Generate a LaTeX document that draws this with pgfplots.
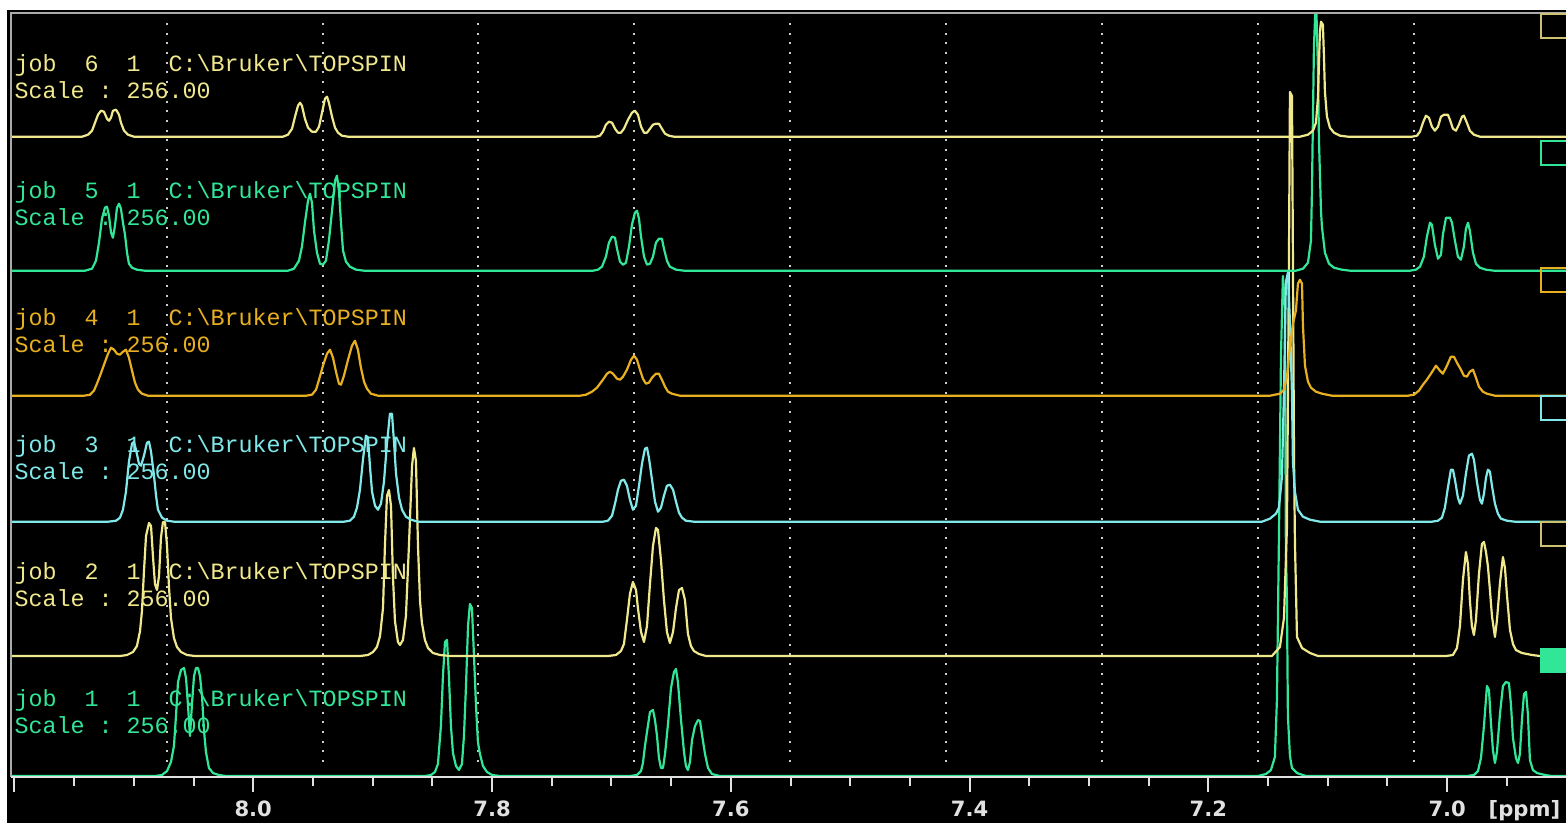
\documentclass[border=0pt]{standalone}
\usepackage{pgfplots}
\pgfplotsset{compat=1.18}
\usepackage{pgfplotstable}
\usepackage{fontspec}
\setmainfont{DejaVu Sans}
\newfontfamily\monofont{Liberation Mono}
\definecolor{cyel}{RGB}{240,232,140}
\definecolor{cyelbox}{RGB}{205,195,110}
\definecolor{cgrn}{RGB}{50,230,152}
\definecolor{corg}{RGB}{232,176,32}
\definecolor{ccyn}{RGB}{128,232,232}
\definecolor{tickgray}{RGB}{225,225,225}
\definecolor{framegray}{RGB}{170,170,170}
\definecolor{dotgray}{RGB}{205,205,205}

% job 6
\pgfplotstableread{
x y
8.2100 0
8.1434 0
8.1384 2
8.1350 6
8.1325 14
8.1300 22
8.1275 26
8.1250 25
8.1225 18
8.1208 16
8.1191 19
8.1175 26
8.1149 27
8.1124 22
8.1108 14
8.1082 6
8.1049 2
8.0999 0
7.9751 0
7.9709 2
7.9675 8
7.9650 20
7.9625 31
7.9608 34
7.9592 31
7.9567 18
7.9541 9
7.9508 5
7.9474 5
7.9449 10
7.9424 24
7.9399 38
7.9382 40
7.9366 34
7.9340 20
7.9315 9
7.9290 4
7.9257 1
7.9206 0
7.7129 0
7.7096 1
7.7071 5
7.7046 12
7.7021 15
7.6995 14
7.6970 8
7.6945 4
7.6920 4
7.6895 8
7.6861 17
7.6828 24
7.6803 26
7.6778 22
7.6752 10
7.6727 4
7.6702 4
7.6677 8
7.6652 12
7.6627 13
7.6602 13
7.6577 8
7.6551 3
7.6518 1
7.6476 0
7.1233 0
7.1166 2
7.1124 6
7.1099 14
7.1082 40
7.1066 105
7.1057 115
7.1041 112
7.1032 80
7.1024 45
7.1007 20
7.0982 9
7.0948 4
7.0898 1
7.0831 0
7.0295 0
7.0253 1
7.0228 5
7.0203 14
7.0178 21
7.0153 19
7.0128 10
7.0103 6
7.0077 10
7.0052 20
7.0027 22
6.9994 22
6.9977 17
6.9952 8
6.9927 6
6.9902 12
6.9876 20
6.9860 21
6.9835 14
6.9810 6
6.9776 2
6.9726 0
6.8900 0
}\jobsix

% job 5
\pgfplotstableread{
x y
8.2100 0
8.1409 0
8.1350 2
8.1317 10
8.1292 28
8.1267 52
8.1242 63
8.1225 64
8.1208 55
8.1191 38
8.1175 33
8.1158 45
8.1141 63
8.1124 67
8.1108 62
8.1091 48
8.1074 36
8.1057 18
8.1041 7
8.1015 3
8.0974 1
8.0907 0
7.9709 0
7.9659 2
7.9617 10
7.9592 24
7.9567 48
7.9541 70
7.9525 77
7.9508 68
7.9491 40
7.9466 18
7.9441 7
7.9416 6
7.9391 10
7.9366 30
7.9340 60
7.9315 90
7.9299 95
7.9282 80
7.9265 48
7.9248 20
7.9223 9
7.9190 4
7.9139 1
7.9072 0
7.7155 0
7.7113 1
7.7079 4
7.7046 14
7.7021 28
7.6995 34
7.6970 33
7.6953 22
7.6928 9
7.6903 6
7.6878 8
7.6853 24
7.6828 46
7.6803 58
7.6786 60
7.6769 52
7.6752 34
7.6727 14
7.6702 6
7.6677 7
7.6652 14
7.6627 28
7.6602 32
7.6577 32
7.6560 22
7.6535 10
7.6510 4
7.6459 1
7.6392 0
7.1267 0
7.1208 2
7.1166 8
7.1141 30
7.1133 77
7.1116 224
7.1099 275
7.1082 200
7.1074 131
7.1057 60
7.1049 44
7.1024 18
7.0990 7
7.0948 3
7.0881 1
7.0814 0
7.0312 0
7.0262 1
7.0228 4
7.0195 14
7.0170 34
7.0144 48
7.0128 46
7.0103 26
7.0077 12
7.0052 16
7.0036 36
7.0010 53
6.9977 53
6.9960 48
6.9935 30
6.9910 14
6.9885 11
6.9860 24
6.9843 42
6.9826 48
6.9810 40
6.9784 18
6.9759 7
6.9726 3
6.9675 1
6.9608 0
6.8900 0
}\jobfive

% job 4
\pgfplotstableread{
x y
8.2100 0
8.1417 0
8.1367 1
8.1334 5
8.1309 12
8.1283 20
8.1250 31
8.1216 42
8.1191 48
8.1166 46
8.1141 42
8.1116 41
8.1091 44
8.1066 46
8.1041 38
8.1015 25
8.0990 13
8.0965 6
8.0932 2
8.0881 0
7.9558 0
7.9508 1
7.9474 6
7.9449 16
7.9416 30
7.9382 42
7.9357 46
7.9332 38
7.9307 24
7.9282 12
7.9265 11
7.9240 20
7.9206 36
7.9173 50
7.9148 55
7.9123 46
7.9098 28
7.9072 14
7.9047 7
7.9014 2
7.8955 0
7.7263 0
7.7213 1
7.7163 4
7.7121 8
7.7071 16
7.7037 22
7.7012 24
7.6987 22
7.6953 17
7.6928 16
7.6903 19
7.6870 26
7.6836 36
7.6811 40
7.6786 36
7.6761 26
7.6736 17
7.6711 12
7.6686 13
7.6660 18
7.6627 22
7.6602 22
7.6577 16
7.6551 9
7.6526 4
7.6493 2
7.6426 0
7.1485 0
7.1401 2
7.1367 6
7.1342 19
7.1317 49
7.1292 72
7.1267 85
7.1250 112
7.1233 116
7.1216 112
7.1208 70
7.1191 30
7.1166 14
7.1141 8
7.1099 4
7.1049 2
7.0965 0
7.0329 0
7.0278 1
7.0237 5
7.0203 11
7.0170 16
7.0136 22
7.0094 30
7.0061 25
7.0036 22
7.0002 30
6.9969 39
6.9943 39
6.9918 33
6.9885 26
6.9860 20
6.9835 19
6.9810 24
6.9784 26
6.9759 18
6.9734 9
6.9701 4
6.9667 2
6.9600 0
6.8900 0
}\jobfour

% job 3
\pgfplotstableread{
x y
8.2100 0
8.1216 0
8.1149 1
8.1116 4
8.1091 12
8.1066 30
8.1041 60
8.1015 78
8.0999 80
8.0982 72
8.0957 58
8.0940 56
8.0915 66
8.0890 79
8.0873 80
8.0856 70
8.0831 46
8.0814 26
8.0798 12
8.0764 4
8.0722 1
8.0664 0
7.9240 0
7.9190 1
7.9156 5
7.9131 14
7.9106 32
7.9081 62
7.9056 86
7.9039 84
7.9022 55
7.9005 30
7.8980 16
7.8955 12
7.8930 18
7.8905 40
7.8880 78
7.8855 108
7.8838 108
7.8821 80
7.8804 48
7.8779 24
7.8754 12
7.8721 5
7.8679 2
7.8620 0
7.7071 0
7.7029 1
7.6995 6
7.6970 18
7.6945 32
7.6920 41
7.6895 42
7.6870 36
7.6845 22
7.6820 12
7.6794 16
7.6769 36
7.6744 58
7.6719 73
7.6702 74
7.6686 64
7.6660 42
7.6635 20
7.6610 10
7.6585 14
7.6560 26
7.6535 36
7.6510 37
7.6484 32
7.6459 20
7.6434 9
7.6409 4
7.6376 1
7.6309 0
7.1552 0
7.1485 3
7.1434 8
7.1409 14
7.1384 45
7.1367 130
7.1351 240
7.1334 249
7.1317 200
7.1300 128
7.1292 60
7.1275 30
7.1250 12
7.1208 5
7.1149 2
7.1066 0
7.0128 0
7.0077 1
7.0044 4
7.0019 14
6.9994 34
6.9969 52
6.9952 52
6.9935 42
6.9910 24
6.9893 18
6.9868 26
6.9843 48
6.9818 66
6.9793 68
6.9776 62
6.9751 40
6.9726 22
6.9709 18
6.9692 28
6.9675 44
6.9659 52
6.9642 50
6.9625 36
6.9600 18
6.9575 8
6.9550 3
6.9500 1
6.9433 0
6.8900 0
}\jobthree

% job 2
\pgfplotstableread{
x y
8.2100 0
8.1116 0
8.1057 1
8.1007 4
8.0974 10
8.0948 25
8.0932 45
8.0915 85
8.0898 120
8.0873 133
8.0856 130
8.0840 100
8.0823 72
8.0806 66
8.0789 80
8.0773 118
8.0756 134
8.0739 134
8.0722 110
8.0706 70
8.0689 38
8.0664 18
8.0639 9
8.0605 4
8.0555 1
8.0488 0
7.9106 0
7.9039 1
7.8997 4
7.8964 9
7.8938 20
7.8913 48
7.8897 110
7.8880 160
7.8863 166
7.8846 150
7.8830 80
7.8813 35
7.8788 14
7.8771 11
7.8746 16
7.8721 40
7.8696 110
7.8670 190
7.8654 208
7.8637 195
7.8620 110
7.8603 55
7.8587 33
7.8562 16
7.8536 8
7.8495 3
7.8436 1
7.8352 0
7.7029 0
7.6962 1
7.6920 5
7.6895 12
7.6870 36
7.6845 62
7.6820 74
7.6794 66
7.6778 48
7.6752 24
7.6727 14
7.6702 30
7.6677 72
7.6652 110
7.6627 128
7.6610 126
7.6585 96
7.6560 56
7.6535 24
7.6510 13
7.6484 24
7.6459 48
7.6434 66
7.6409 68
7.6384 56
7.6359 22
7.6334 10
7.6309 5
7.6267 2
7.6208 0
7.1468 0
7.1401 9
7.1367 38
7.1342 129
7.1325 400
7.1317 564
7.1300 560
7.1292 400
7.1283 200
7.1275 113
7.1258 19
7.1216 8
7.1149 3
7.1082 0
7.0010 0
6.9952 1
6.9918 8
6.9893 30
6.9868 76
6.9843 104
6.9826 92
6.9810 56
6.9793 30
6.9776 21
6.9759 36
6.9734 82
6.9709 112
6.9692 114
6.9675 104
6.9659 90
6.9642 66
6.9625 40
6.9600 19
6.9583 36
6.9558 73
6.9533 99
6.9516 88
6.9500 62
6.9474 26
6.9449 12
6.9424 6
6.9374 3
6.9290 1
6.9223 0
6.8900 0
}\jobtwo

% job 1
\pgfplotstableread{
x y
8.2100 0
8.0823 0
8.0764 1
8.0722 5
8.0689 14
8.0664 30
8.0647 60
8.0630 94
8.0605 106
8.0580 108
8.0563 98
8.0546 70
8.0530 40
8.0513 72
8.0496 100
8.0479 108
8.0463 108
8.0446 100
8.0429 80
8.0412 45
8.0396 24
8.0371 8
8.0337 3
8.0287 1
8.0228 0
7.8562 0
7.8511 1
7.8478 4
7.8453 12
7.8428 50
7.8411 100
7.8394 134
7.8377 136
7.8361 100
7.8344 50
7.8327 23
7.8302 10
7.8277 6
7.8252 12
7.8235 40
7.8218 90
7.8201 150
7.8185 172
7.8168 168
7.8151 120
7.8134 70
7.8118 34
7.8101 22
7.8076 10
7.8042 4
7.8000 1
7.7933 0
7.6845 0
7.6786 1
7.6752 5
7.6736 13
7.6719 30
7.6702 44
7.6677 64
7.6652 66
7.6635 56
7.6618 40
7.6602 18
7.6585 8
7.6568 8
7.6551 22
7.6526 52
7.6501 88
7.6476 104
7.6459 107
7.6443 94
7.6417 56
7.6392 24
7.6376 10
7.6359 6
7.6342 14
7.6325 36
7.6300 50
7.6275 56
7.6258 55
7.6242 42
7.6216 22
7.6191 8
7.6158 2
7.6091 0
7.1585 0
7.1518 2
7.1476 6
7.1443 19
7.1426 76
7.1409 240
7.1392 420
7.1376 500
7.1359 470
7.1351 230
7.1342 173
7.1334 60
7.1317 20
7.1300 8
7.1258 3
7.1183 0
6.9835 0
6.9776 1
6.9742 5
6.9717 18
6.9692 50
6.9667 90
6.9650 86
6.9634 54
6.9617 26
6.9600 13
6.9583 24
6.9558 62
6.9533 90
6.9508 94
6.9483 93
6.9466 72
6.9449 38
6.9424 18
6.9407 13
6.9391 22
6.9374 56
6.9357 82
6.9340 84
6.9324 62
6.9307 16
6.9282 6
6.9248 3
6.9181 1
6.9123 0
6.8900 0
}\jobone

\newcommand{\lblfont}{\monofont\fontsize{6.64pt}{7pt}\selectfont}
\newcommand{\tkfont}{\bfseries\fontsize{6pt}{7pt}\selectfont}

\begin{document}
\begin{tikzpicture}
\useasboundingbox (0,0) rectangle (15.66cm,-8.23cm);
\fill[white] (0,0) rectangle (15.66cm,-8.23cm);
\fill[black] (0.07cm,-0.10cm) rectangle (15.66cm,-8.23cm);
\begin{axis}[
  at={(0.11cm,-0.13cm)}, anchor=north west,
  scale only axis, width=15.55cm, height=7.64cm,
  xmin=6.9005, xmax=8.2029, x dir=reverse,
  ymin=46, ymax=810,
  axis line style={draw=none},
  ytick=\empty,
  xtick={7.0,7.2,7.4,7.6,7.8,8.0,8.2},
  xticklabels={7.0,7.2,7.4,7.6,7.8,8.0,{}},
  minor xtick={6.95,7.05,7.1,7.15,7.25,7.3,7.35,7.45,7.5,7.55,7.65,7.7,7.75,7.85,7.9,7.95,8.05,8.1,8.15},
  xtick pos=left, tick align=outside,
  major tick length=0.15cm, minor tick length=0.09cm,
  tick style={draw=tickgray, line width=0.02cm},
  xticklabel style={font=\tkfont, text=tickgray, anchor=base, inner sep=0pt, yshift=-0.245cm},
  clip=true,
]
\draw[dotgray, line width=0.02cm, dash pattern=on 0.02cm off 0.077cm] (axis cs:8.0725,800) -- (axis cs:8.0725,55);
\draw[dotgray, line width=0.02cm, dash pattern=on 0.02cm off 0.077cm] (axis cs:7.9419,800) -- (axis cs:7.9419,55);
\draw[dotgray, line width=0.02cm, dash pattern=on 0.02cm off 0.077cm] (axis cs:7.8114,800) -- (axis cs:7.8114,55);
\draw[dotgray, line width=0.02cm, dash pattern=on 0.02cm off 0.077cm] (axis cs:7.6808,800) -- (axis cs:7.6808,55);
\draw[dotgray, line width=0.02cm, dash pattern=on 0.02cm off 0.077cm] (axis cs:7.5502,800) -- (axis cs:7.5502,55);
\draw[dotgray, line width=0.02cm, dash pattern=on 0.02cm off 0.077cm] (axis cs:7.4196,800) -- (axis cs:7.4196,55);
\draw[dotgray, line width=0.02cm, dash pattern=on 0.02cm off 0.077cm] (axis cs:7.2891,800) -- (axis cs:7.2891,55);
\draw[dotgray, line width=0.02cm, dash pattern=on 0.02cm off 0.077cm] (axis cs:7.1585,800) -- (axis cs:7.1585,55);
\draw[dotgray, line width=0.02cm, dash pattern=on 0.02cm off 0.077cm] (axis cs:7.0279,800) -- (axis cs:7.0279,55);

\addplot[cgrn, line width=0.022cm, line join=round] table[x=x, y expr=\thisrow{y}+47] {\jobone};
\addplot[cyel, line width=0.022cm, line join=round] table[x=x, y expr=\thisrow{y}+167] {\jobtwo};
\addplot[ccyn, line width=0.022cm, line join=round] table[x=x, y expr=\thisrow{y}+301.3] {\jobthree};
\addplot[corg, line width=0.022cm, line join=round] table[x=x, y expr=\thisrow{y}+427.3] {\jobfour};
\addplot[cgrn, line width=0.022cm, line join=round] table[x=x, y expr=\thisrow{y}+552.3] {\jobfive};
\addplot[cyel, line width=0.022cm, line join=round] table[x=x, y expr=\thisrow{y}+686.3] {\jobsix};
\end{axis}

% frame
\draw[framegray, line width=0.02cm] (0.11cm,-7.77cm) -- (0.11cm,-0.13cm) -- (15.66cm,-0.13cm);
\draw[tickgray, line width=0.02cm] (0.11cm,-7.77cm) -- (15.66cm,-7.77cm);

% boxes at right
\draw[cyelbox, line width=0.02cm] (15.41cm,-0.14cm) rectangle (15.75cm,-0.385cm);
\draw[cgrn, line width=0.02cm] (15.41cm,-1.41cm) rectangle (15.75cm,-1.655cm);
\draw[corg, line width=0.02cm] (15.41cm,-2.68cm) rectangle (15.75cm,-2.925cm);
\draw[ccyn, line width=0.02cm] (15.41cm,-3.96cm) rectangle (15.75cm,-4.205cm);
\draw[cyelbox, line width=0.02cm] (15.41cm,-5.22cm) rectangle (15.75cm,-5.465cm);
\fill[cgrn] (15.40cm,-6.48cm) rectangle (15.75cm,-6.735cm);

% labels
\node[cyel, anchor=base west, inner sep=0pt] at (0.14cm,-0.72cm) {\lblfont job~~6~~1~~C:\textbackslash Bruker\textbackslash TOPSPIN};
\node[cyel, anchor=base west, inner sep=0pt] at (0.14cm,-0.99cm) {\lblfont Scale~:~256.00};
\node[cgrn, anchor=base west, inner sep=0pt] at (0.14cm,-1.99cm) {\lblfont job~~5~~1~~C:\textbackslash Bruker\textbackslash TOPSPIN};
\node[cgrn, anchor=base west, inner sep=0pt] at (0.14cm,-2.26cm) {\lblfont Scale~:~256.00};
\node[corg, anchor=base west, inner sep=0pt] at (0.14cm,-3.26cm) {\lblfont job~~4~~1~~C:\textbackslash Bruker\textbackslash TOPSPIN};
\node[corg, anchor=base west, inner sep=0pt] at (0.14cm,-3.53cm) {\lblfont Scale~:~256.00};
\node[ccyn, anchor=base west, inner sep=0pt] at (0.14cm,-4.53cm) {\lblfont job~~3~~1~~C:\textbackslash Bruker\textbackslash TOPSPIN};
\node[ccyn, anchor=base west, inner sep=0pt] at (0.14cm,-4.80cm) {\lblfont Scale~:~256.00};
\node[cyel, anchor=base west, inner sep=0pt] at (0.14cm,-5.80cm) {\lblfont job~~2~~1~~C:\textbackslash Bruker\textbackslash TOPSPIN};
\node[cyel, anchor=base west, inner sep=0pt] at (0.14cm,-6.07cm) {\lblfont Scale~:~256.00};
\node[cgrn, anchor=base west, inner sep=0pt] at (0.14cm,-7.07cm) {\lblfont job~~1~~1~~C:\textbackslash Bruker\textbackslash TOPSPIN};
\node[cgrn, anchor=base west, inner sep=0pt] at (0.14cm,-7.34cm) {\lblfont Scale~:~256.00};

\node[tickgray, anchor=base west, inner sep=0pt] at (14.88cm,-8.165cm) {\tkfont [ppm]};
\end{tikzpicture}
\end{document}
